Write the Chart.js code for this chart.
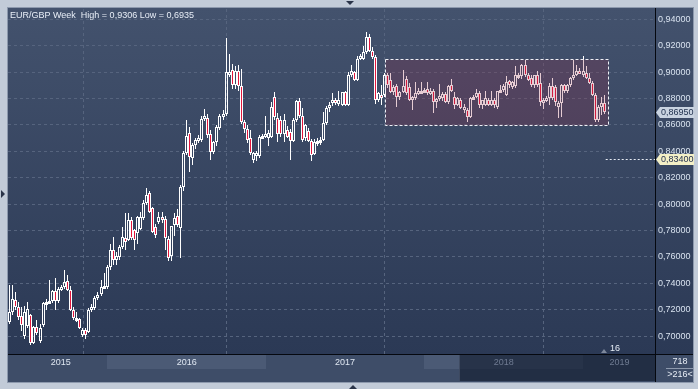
<!DOCTYPE html>
<html><head><meta charset="utf-8">
<script src="https://cdn.jsdelivr.net/npm/chart.js@4.4.1/dist/chart.umd.min.js"></script>
<style>html,body{margin:0;padding:0;background:#c2cbd8;overflow:hidden}canvas{display:block}</style>
</head><body>
<canvas id="c" width="698" height="389"></canvas>
<script>
// ---- data (weekly EUR/GBP candles, week index 0 = mid May 2015) ----
const opens = [
.7110,.7185,.7270,.7222,.7150,.7000,.7075,.7160,.6945,.7070,.6960,.7080,.7248,.7255,.7262,.7345,.7262,.7360,.7375,.7420,
.7350,.7197,.7134,.7126,.7010,.7045,.7033,.7197,.7210,.7285,.7315,.7370,.7374,.7525,.7652,.7576,.7601,.7677,.7740,.7727,
.7879,.7800,.7778,.7810,.7891,.8005,.8081,.7967,.7828,.7866,.7900,.7886,.7735,.7605,.7844,.7906,.7818,.8132,.8384,.8540,
.8346,.8446,.8484,.8484,.8647,.8655,.8530,.8396,.8472,.8580,.8665,.8685,.8975,.9017,.8899,.9005,.8891,.8622,.8572,.8497,
.8335,.8375,.8364,.8509,.8515,.8500,.8509,.8810,.8655,.8640,.8530,.8560,.8545,.8479,.8640,.8780,.8665,.8500,.8550,.8475,
.8380,.8470,.8478,.8488,.8613,.8725,.8765,.8790,.8755,.8750,.8850,.8750,.8975,.9000,.8937,.9100,.9100,.9150,.9263,.9163,
.9113,.8788,.8825,.8825,.8975,.8938,.8850,.8895,.8808,.8850,.8945,.8890,.8790,.8800,.8845,.8850,.8858,.8870,.8845,.8858,
.8770,.8795,.8800,.8833,.8770,.8900,.8815,.8752,.8790,.8714,.8714,.8663,.8803,.8815,.8840,.8752,.8752,.8790,.8752,.8790,
.8739,.8853,.8866,.8828,.8930,.8890,.8891,.8967,.8967,.9056,.8980,.8955,.8904,.8980,.8916,.8777,.8790,.8803,.8891,.8885,
.8739,.8765,.8900,.8853,.8904,.8955,.8980,.9010,.8980,.8990,.8955,.8916,.8828,.8638,.8739,.8765];
const highs = [
.7385,.7390,.7330,.7260,.7220,.7230,.7260,.7165,.7075,.7120,.7090,.7260,.7280,.7424,.7350,.7437,.7370,.7390,.7500,.7460,
.7380,.7220,.7180,.7140,.7060,.7060,.7210,.7240,.7300,.7330,.7424,.7480,.7540,.7700,.7750,.7640,.7690,.7828,.7929,.7929,
.7900,.7810,.7910,.7942,.8030,.8119,.8100,.7980,.7850,.7942,.7940,.7909,.7760,.7835,.7936,.7960,.8145,.8400,.8636,.8586,
.8460,.8500,.8520,.8670,.8723,.8680,.8560,.8480,.8600,.8685,.8715,.9258,.9137,.9062,.9045,.9050,.9024,.8640,.8600,.8560,
.8395,.8400,.8520,.8530,.8665,.8560,.8773,.8848,.8690,.8670,.8680,.8590,.8570,.8650,.8790,.8800,.8730,.8610,.8580,.8490,
.8490,.8500,.8510,.8700,.8740,.8770,.8840,.8800,.8860,.8850,.8860,.9000,.9050,.9010,.9125,.9140,.9200,.9306,.9290,.9190,
.9130,.8850,.8900,.8990,.8990,.8990,.8900,.8910,.8860,.9013,.8970,.8920,.8820,.8925,.8880,.8925,.8880,.8925,.8880,.8870,
.8800,.8913,.8850,.8850,.8900,.8950,.8850,.8815,.8800,.8760,.8730,.8810,.8830,.8870,.8855,.8790,.8855,.8800,.8855,.8800,
.8860,.8900,.8910,.8967,.8940,.8930,.9043,.8990,.9060,.9090,.8990,.8975,.8980,.9010,.8990,.8800,.8820,.8916,.8954,.8900,
.8780,.8910,.8910,.8910,.8960,.9090,.9050,.9030,.9120,.9043,.8990,.8930,.8840,.8750,.8815,.8830];
const lows = [
.7095,.7160,.7200,.7120,.7040,.6980,.7060,.6935,.6938,.7010,.6950,.7070,.7200,.7240,.7250,.7197,.7250,.7340,.7360,.7340,
.7190,.7120,.7110,.7050,.6990,.6975,.7020,.7180,.7200,.7270,.7300,.7355,.7360,.7500,.7540,.7540,.7580,.7660,.7650,.7720,
.7730,.7650,.7700,.7800,.7880,.7990,.7930,.7780,.7740,.7850,.7860,.7655,.7567,.7567,.7755,.7830,.7592,.8100,.8370,.8246,
.8296,.8420,.8460,.8470,.8630,.8500,.8333,.8380,.8440,.8560,.8640,.8670,.8960,.8873,.8870,.8860,.8610,.8540,.8460,.8370,
.8308,.8330,.8350,.8490,.8500,.8440,.8500,.8640,.8472,.8510,.8470,.8500,.8331,.8470,.8620,.8650,.8470,.8480,.8470,.8325,
.8370,.8440,.8450,.8475,.8600,.8700,.8740,.8750,.8740,.8740,.8740,.8740,.8960,.8930,.8930,.9090,.9090,.9140,.9150,.9100,
.8760,.8775,.8750,.8810,.8880,.8840,.8830,.8738,.8790,.8840,.8830,.8780,.8713,.8790,.8830,.8840,.8840,.8830,.8830,.8688,
.8725,.8780,.8780,.8763,.8760,.8850,.8720,.8740,.8720,.8690,.8625,.8650,.8790,.8800,.8730,.8720,.8740,.8740,.8740,.8730,
.8720,.8840,.8850,.8820,.8880,.8870,.8880,.8950,.8950,.8960,.8930,.8890,.8880,.8890,.8740,.8720,.8770,.8752,.8790,.8740,
.8650,.8660,.8840,.8840,.8890,.8940,.8970,.8990,.8960,.8950,.8910,.8820,.8625,.8625,.8676,.8680];
const closes = [
.7185,.7280,.7222,.7145,.7085,.7180,.7205,.6945,.7070,.7025,.7060,.7248,.7255,.7262,.7340,.7262,.7360,.7375,.7410,.7350,
.7197,.7134,.7128,.7058,.7045,.7008,.7197,.7222,.7285,.7310,.7370,.7378,.7525,.7652,.7576,.7606,.7677,.7753,.7715,.7879,
.7740,.7727,.7900,.7904,.8005,.8068,.7942,.7790,.7765,.7900,.7880,.7743,.7592,.7831,.7894,.7844,.8132,.8384,.8514,.8358,
.8446,.8484,.8497,.8647,.8665,.8522,.8396,.8472,.8585,.8665,.8685,.8999,.9000,.8899,.9005,.8891,.8622,.8572,.8489,.8384,
.8384,.8388,.8509,.8515,.8530,.8535,.8735,.8660,.8530,.8530,.8640,.8510,.8479,.8640,.8780,.8665,.8484,.8600,.8475,.8375,
.8470,.8478,.8488,.8613,.8725,.8750,.8790,.8765,.8790,.8850,.8750,.8975,.9010,.8937,.9100,.9125,.9150,.9263,.9163,.9113,
.8788,.8838,.8813,.8975,.8900,.8850,.8888,.8808,.8850,.8895,.8845,.8790,.8813,.8845,.8858,.8860,.8862,.8838,.8858,.8770,
.8795,.8820,.8833,.8770,.8895,.8858,.8752,.8800,.8727,.8739,.8663,.8803,.8815,.8845,.8752,.8790,.8803,.8752,.8790,.8752,
.8853,.8866,.8891,.8924,.8904,.8924,.8980,.8980,.9056,.8980,.8942,.8904,.8980,.8904,.8777,.8790,.8803,.8891,.8803,.8777,
.8765,.8900,.8853,.8904,.8955,.8980,.9005,.8995,.9005,.8955,.8916,.8828,.8638,.8739,.8765,.8695];

const yTickValues = [0.70,0.72,0.74,0.76,0.78,0.80,0.82,0.84,0.86,0.88,0.90,0.92,0.94];
const yearStarts = [32, 84.1, 135.9, 188];           // week index where 2016..2019 begin
const yearLabels = ['2015','2016','2017','2018','2019'];
const yearLabelAt = [16.8, 58.1, 110.0, 162.0, 200.0];
const zoneWeeks = [123.1, 196.1];                    // shaded range box (weeks)
const zonePrices = [0.8600, 0.9100];                 // shaded range box (prices)
const lastPrice = [0.8695];
const alertPrice = [0.8340];
const navigatorFrom = [147.4];
const titleText = 'EUR/GBP Week  High = 0,9306 Low = 0,6935';
const counters = ['718', '>216<', '16'];

// ---- chart ----
const FONT = '"Liberation Sans", Arial, sans-serif';
const RED = '#e3163c';
const GRID = '#56647e';
const X_MIN = -0.49, X_MAX = 211.6, Y_MIN = 0.6864, Y_MAX = 0.9478;
const idx = closes.map((_, i) => i);
const fmt = v => v.toFixed(5).replace('.', ',');

const xTickVals = [...yearStarts, ...yearLabelAt].sort((a, b) => a - b);
const xLabelOf = v => { const k = yearLabelAt.indexOf(v); return k >= 0 ? yearLabels[k] : ''; };

const snapPlugin = {
  id: 'snap',
  beforeDatasetsDraw(chart) {
    chart.data.datasets.forEach((ds, di) => {
      const meta = chart.getDatasetMeta(di);
      meta.data.forEach(el => {
        el.x = Math.floor(el.x) + 0.5;
        let a = Math.round(el.y), b = Math.round(el.base);
        if (ds.isBody && Math.abs(a - b) < 3) {
          const m = Math.round((a + b) / 2);
          a = m - 1; b = m + 2;
        }
        el.y = a; el.base = b;
      });
    });
  }
};

const framePlugin = {
  id: 'frame',
  beforeDraw(chart) {
    const ctx = chart.ctx, ca = chart.chartArea, xs = chart.scales.x;
    ctx.save();
    ctx.fillStyle = '#c2cbd8';
    ctx.fillRect(0, 0, 698, 389);
    ctx.fillStyle = '#8d99ad';
    ctx.fillRect(7, 7, 687, 376);
    const g = ctx.createLinearGradient(0, 8, 0, 354);
    g.addColorStop(0, '#43526d');
    g.addColorStop(1, '#2b3955');
    ctx.fillStyle = g;
    ctx.fillRect(8, 8, 685, 347);
    // bottom axis panel
    ctx.fillStyle = '#3e4d68';
    ctx.fillRect(8, 355, 685, 27);
    ctx.fillStyle = '#4b5a75';
    const b0 = xs.getPixelForValue(yearStarts[0]), b1 = xs.getPixelForValue(yearStarts[1]);
    const b2 = xs.getPixelForValue(yearStarts[2]), b3 = xs.getPixelForValue(yearStarts[3]);
    ctx.fillRect(Math.round(b0), 355, Math.round(b1 - b0), 14);
    ctx.fillRect(Math.round(b2), 355, Math.round(b3 - b2), 14);
    const nv = Math.round(xs.getPixelForValue(navigatorFrom[0]));
    ctx.fillStyle = 'rgba(18,27,46,0.62)';
    ctx.fillRect(nv, 355, ca.right - nv, 26);
    ctx.fillStyle = 'rgba(80,92,115,0.6)';
    ctx.fillRect(nv, 355, 1, 26);
    ctx.restore();
  },
  afterDatasetsDraw(chart) {
    const ctx = chart.ctx, xs = chart.scales.x, ys = chart.scales.y, ca = chart.chartArea;
    ctx.save();
    // shaded range zone
    const zx0 = Math.round(xs.getPixelForValue(zoneWeeks[0])) + 0.5;
    const zx1 = Math.round(xs.getPixelForValue(zoneWeeks[1])) + 0.5;
    const zy0 = Math.round(ys.getPixelForValue(zonePrices[1])) + 0.5;
    const zy1 = Math.round(ys.getPixelForValue(zonePrices[0])) + 0.5;
    ctx.fillStyle = 'rgba(150,40,72,0.24)';
    ctx.fillRect(zx0, zy0, zx1 - zx0, zy1 - zy0);
    ctx.strokeStyle = '#eef0f6';
    ctx.lineWidth = 1;
    ctx.setLineDash([3, 2]);
    ctx.strokeRect(zx0, zy0, zx1 - zx0, zy1 - zy0);
    // alert line
    const ay = Math.round(ys.getPixelForValue(alertPrice[0])) + 0.5;
    ctx.setLineDash([2, 2]);
    ctx.strokeStyle = '#e8ecf4';
    ctx.beginPath();
    ctx.moveTo(xs.getPixelForValue(zoneWeeks[1]) - 2, ay);
    ctx.lineTo(ca.right, ay);
    ctx.stroke();
    ctx.restore();
  },
  afterDraw(chart) {
    const ctx = chart.ctx, ys = chart.scales.y, ca = chart.chartArea;
    ctx.save();
    // separators
    ctx.fillStyle = '#05080f';
    ctx.fillRect(655, 8, 1, 374);
    ctx.fillRect(8, 354, 685, 1);
    // title
    ctx.font = '9px ' + FONT;
    ctx.fillStyle = '#e8eef7';
    ctx.textBaseline = 'alphabetic';
    ctx.textAlign = 'left';
    ctx.fillText(titleText, 10, 18);
    // price tags
    const tag = (v, fill, col) => {
      const y = Math.round(ys.getPixelForValue(v));
      ctx.beginPath();
      ctx.moveTo(656, y + 0.5);
      ctx.lineTo(660, y - 5);
      ctx.lineTo(694, y - 5);
      ctx.lineTo(694, y + 6);
      ctx.lineTo(660, y + 6);
      ctx.closePath();
      ctx.fillStyle = fill;
      ctx.fill();
      ctx.fillStyle = col;
      ctx.textBaseline = 'middle';
      ctx.fillText(fmt(v), 661, y + 0.5);
    };
    tag(alertPrice[0], '#f3efc6', '#243050');
    tag(lastPrice[0], '#c9d3e0', '#22324f');
    // counters
    ctx.textAlign = 'center';
    ctx.textBaseline = 'middle';
    ctx.fillStyle = '#e6ecf5';
    ctx.fillText(counters[0], 680, 362);
    ctx.fillText(counters[1], 680, 375);
    ctx.fillStyle = '#8d99ad';
    ctx.fillRect(666, 368, 27, 1);
    ctx.fillStyle = '#e6ecf5';
    ctx.textAlign = 'left';
    ctx.fillText(counters[2], 610, 349);
    ctx.fillStyle = '#7d889c';
    ctx.beginPath();
    ctx.moveTo(601, 353); ctx.lineTo(604, 349); ctx.lineTo(607, 353); ctx.closePath(); ctx.fill();
    // outer arrows
    ctx.fillStyle = '#2a3449';
    ctx.beginPath(); ctx.moveTo(346, 1); ctx.lineTo(354, 1); ctx.lineTo(350, 5); ctx.closePath(); ctx.fill();
    ctx.beginPath(); ctx.moveTo(1, 190); ctx.lineTo(5, 194); ctx.lineTo(1, 198); ctx.closePath(); ctx.fill();
    ctx.beginPath(); ctx.moveTo(349, 389); ctx.lineTo(357, 389); ctx.lineTo(353, 385); ctx.closePath(); ctx.fill();
    ctx.restore();
  }
};

new Chart(document.getElementById('c'), {
  type: 'bar',
  data: {
    datasets: [
      { label: 'lower wick', data: idx.map(i => ({ x: i, y: [lows[i], Math.min(opens[i], closes[i])] })),
        backgroundColor: '#ffffff', borderWidth: 0, barThickness: 1, grouped: false, inflateAmount: 0 },
      { label: 'upper wick', data: idx.map(i => ({ x: i, y: [Math.max(opens[i], closes[i]), highs[i]] })),
        backgroundColor: '#ffffff', borderWidth: 0, barThickness: 1, grouped: false, inflateAmount: 0 },
      { label: 'body', isBody: true, data: idx.map(i => ({ x: i, y: [opens[i], closes[i]] })),
        backgroundColor: c => (closes[c.dataIndex] < opens[c.dataIndex] ? RED : 'rgba(0,0,0,0)'),
        borderColor: '#ffffff', borderWidth: 1, borderSkipped: false, barThickness: 3, grouped: false, inflateAmount: 0 }
    ]
  },
  options: {
    responsive: false,
    animation: false,
    devicePixelRatio: 1,
    layout: { padding: { left: 8, top: 9, right: 5, bottom: 8 } },
    plugins: { legend: { display: false }, tooltip: { enabled: false }, title: { display: false } },
    scales: {
      x: {
        type: 'linear', min: X_MIN, max: X_MAX, offset: false,
        afterBuildTicks: s => { s.ticks = xTickVals.map(v => ({ value: v })); },
        afterFit: s => { s.height = 27; },
        grid: { drawTicks: false, lineWidth: 1,
          color: c => (c.tick && yearStarts.includes(c.tick.value)) ? GRID : 'rgba(0,0,0,0)' },
        border: { display: false, dash: [3, 3] },
        ticks: { autoSkip: false, maxRotation: 0, minRotation: 0, padding: 3,
          font: { family: FONT, size: 9 },
          color: c => (c.tick && c.tick.value >= navigatorFrom[0]) ? '#6f7b92' : '#dfe7f2',
          callback: v => xLabelOf(v) }
      },
      y: {
        type: 'linear', position: 'right', min: Y_MIN, max: Y_MAX,
        afterBuildTicks: s => { s.ticks = yTickValues.map(v => ({ value: v })); },
        afterFit: s => { s.width = 38; },
        grid: { drawTicks: false, color: GRID, lineWidth: 1 },
        border: { display: false, dash: [3, 3] },
        ticks: { padding: 3, font: { family: FONT, size: 9 }, color: '#d8e2ef', callback: v => fmt(v) }
      }
    }
  },
  plugins: [framePlugin, snapPlugin]
});
</script>
</body></html>
